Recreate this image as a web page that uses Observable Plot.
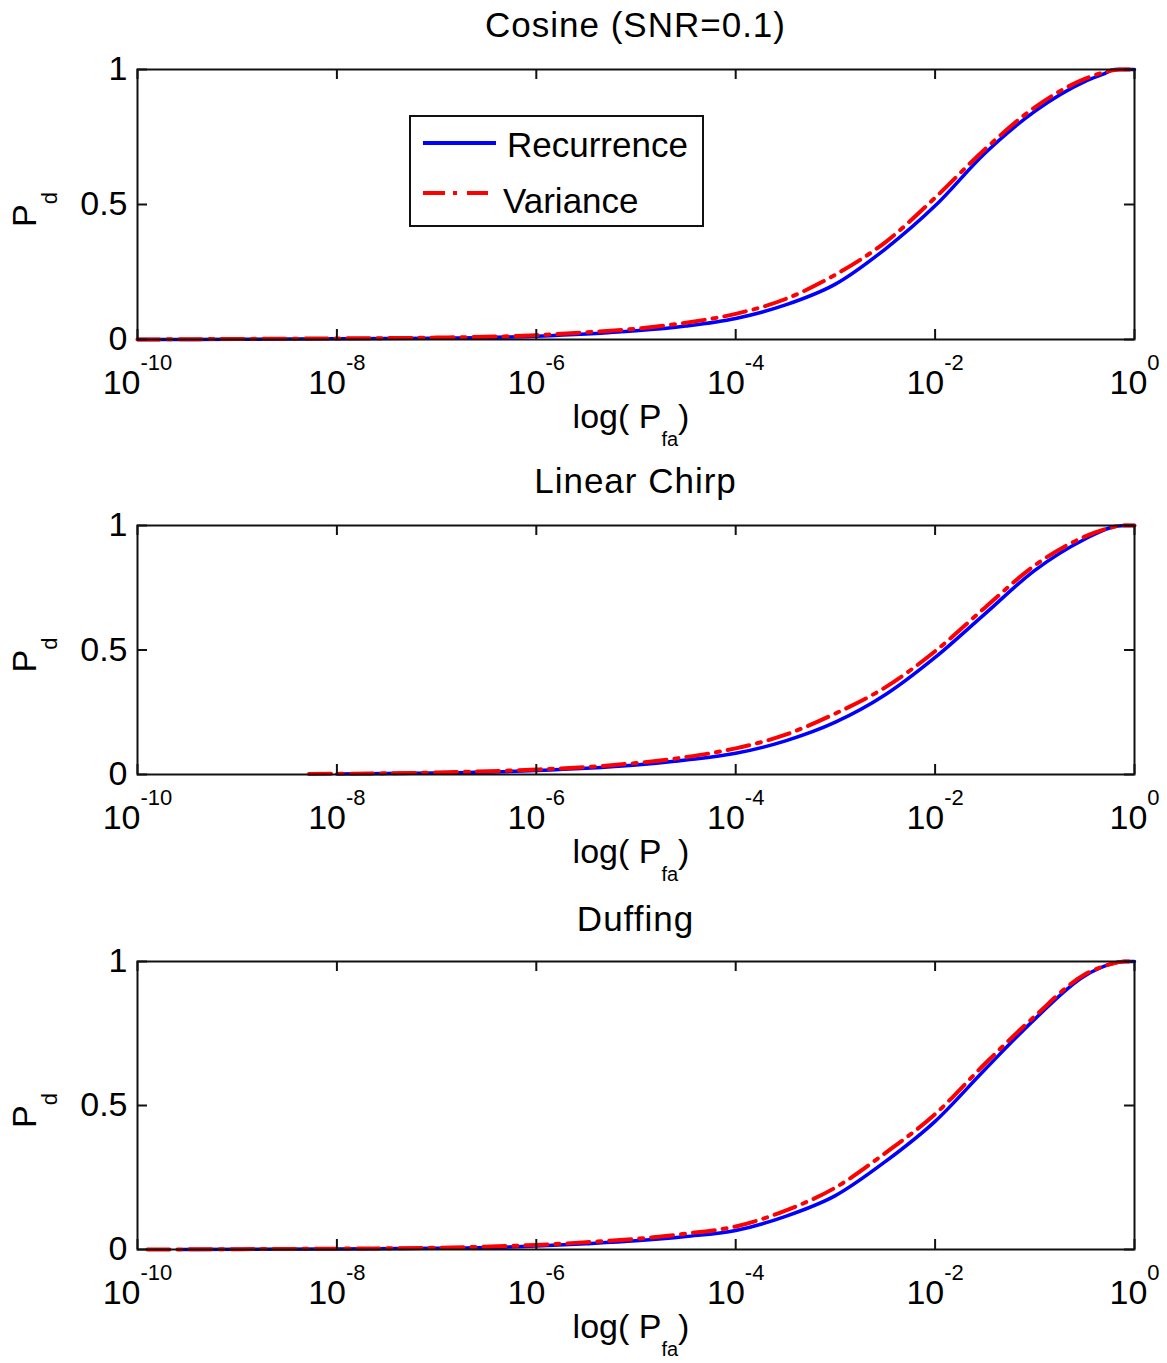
<!DOCTYPE html>
<html>
<head>
<meta charset="utf-8">
<script src="https://cdn.jsdelivr.net/npm/d3@7"></script>
<script src="https://cdn.jsdelivr.net/npm/@observablehq/plot@0.6"></script>
<style>
  html, body { margin: 0; padding: 0; background: #fff; }
  #wrap { position: relative; width: 1167px; height: 1363px; font-family: "Liberation Sans", Arial, Helvetica, sans-serif; color: #000; overflow: hidden; }
  .panel { position: absolute; left: 0; }
  .title { position: absolute; left: 137px; width: 997px; text-align: center; font-size: 35px; line-height: 40px; letter-spacing: 1px; white-space: nowrap; }
  .legend { position: absolute; left: 409px; top: 115px; width: 295px; height: 112px; box-sizing: border-box; border: 2px solid #111; background: #fff; }
  .legend .sw { position: absolute; height: 4px; }
  .legend .lbl { position: absolute; font-size: 35px; line-height: 40px; white-space: nowrap; }
</style>
</head>
<body>
<div id="wrap"></div>
<script>
// ---------- data ----------
const panelTitles = ["Cosine (SNR=0.1)", "Linear Chirp", "Duffing"];
const seriesNames = ["Recurrence", "Variance"];
const seriesColors = ["#0000ff", "#ff0000"];
const xTicks = [1e-10, 1e-8, 1e-6, 1e-4, 1e-2, 1];
const yTicks = [0, 0.5, 1];

// log10(Pfa) and Pd values
const cosineRecLog = [-10, -9, -8, -7, -6, -5.5, -5, -4.5, -4, -3.5, -3, -2.5, -2, -1.5, -1, -0.5, -0.3, -0.2, 0];
const cosineRecPd  = [0, 0.001, 0.003, 0.005, 0.012, 0.02, 0.032, 0.05, 0.078, 0.128, 0.205, 0.335, 0.495, 0.69, 0.845, 0.955, 0.985, 1.0, 1.0];
const cosineVarLog = [-10, -9, -8, -7, -6, -5.5, -5, -4.5, -4, -3.5, -3, -2.5, -2, -1.5, -1, -0.5, -0.3, -0.15, 0];
const cosineVarPd  = [0, 0.002, 0.004, 0.007, 0.016, 0.027, 0.04, 0.062, 0.095, 0.15, 0.24, 0.36, 0.525, 0.705, 0.86, 0.965, 0.99, 1.0, 1.0];

const chirpRecLog = [-8.0, -7, -6, -5.5, -5, -4.5, -4, -3.5, -3, -2.5, -2, -1.5, -1, -0.5, -0.25, -0.1, 0];
const chirpRecPd  = [0.002, 0.006, 0.016, 0.025, 0.038, 0.058, 0.085, 0.135, 0.21, 0.32, 0.47, 0.645, 0.82, 0.945, 0.99, 1.0, 1.0];
const chirpVarLog = [-8.28, -7, -6, -5.5, -5, -4.5, -4, -3.5, -3, -2.5, -2, -1.5, -1, -0.5, -0.25, -0.12, 0];
const chirpVarPd  = [0.002, 0.008, 0.02, 0.03, 0.046, 0.07, 0.105, 0.16, 0.245, 0.35, 0.495, 0.67, 0.84, 0.955, 0.99, 1.0, 1.0];

const duffRecLog = [-9.55, -8, -7, -6, -5.5, -5, -4.5, -4, -3.5, -3, -2.5, -2, -1.5, -1, -0.5, -0.25, -0.1, 0];
const duffRecPd  = [0, 0.002, 0.004, 0.012, 0.02, 0.03, 0.045, 0.066, 0.115, 0.187, 0.305, 0.445, 0.625, 0.80, 0.95, 0.99, 1.0, 1.0];
const duffVarLog = [-9.9, -8, -7, -6, -5.5, -5, -4.5, -4, -3.5, -3, -2.5, -2, -1.5, -1, -0.5, -0.25, -0.1, 0];
const duffVarPd  = [0, 0.003, 0.006, 0.016, 0.025, 0.037, 0.055, 0.08, 0.135, 0.215, 0.335, 0.47, 0.645, 0.81, 0.955, 0.99, 1.0, 1.0];

// ---------- drawing ----------
const NS = "http://www.w3.org/2000/svg";
const FRAME_W = 997;

function rows(logs, pds) {
  return logs.map((e, i) => ({ pfa: Math.pow(10, e), pd: pds[i] }));
}

function panel(recLog, recPd, varLog, varPd, mt, fh, mb) {
  const rec = rows(recLog, recPd);
  const vr = rows(varLog, varPd);
  return Plot.plot({
    width: 1167,
    height: mt + fh + mb,
    marginLeft: 137,
    marginRight: 33,
    marginTop: mt,
    marginBottom: mb,
    style: { fontFamily: '"Liberation Sans", Arial, Helvetica, sans-serif', fontSize: "34px", background: "transparent", overflow: "visible", color: "#000" },
    x: { type: "log", domain: [1e-10, 1], label: null },
    y: { domain: [0, 1], label: null },
    marks: [
      Plot.line(rec, { x: "pfa", y: "pd", stroke: seriesColors[0], strokeWidth: 3.5, curve: "monotone-x" }),
      Plot.line(vr, { x: "pfa", y: "pd", stroke: seriesColors[1], strokeWidth: 4, strokeDasharray: "22,8,4,8", curve: "monotone-x" }),
      Plot.frame({ stroke: "#111", strokeWidth: 2 }),
      Plot.tickX(xTicks, { x: d => d, insetTop: fh - 10, stroke: "#111", strokeWidth: 2 }),
      Plot.tickX(xTicks, { x: d => d, insetBottom: fh - 10, stroke: "#111", strokeWidth: 2 }),
      Plot.tickY(yTicks, { y: d => d, insetRight: FRAME_W - 10, stroke: "#111", strokeWidth: 2 }),
      Plot.tickY(yTicks, { y: d => d, insetLeft: FRAME_W - 10, stroke: "#111", strokeWidth: 2 }),
      Plot.axisX({ ticks: xTicks, tickSize: 0, tickPadding: 30, tickFormat: d => "10^" + Math.round(Math.log10(d)), label: null, fontSize: 34 }),
      Plot.axisY({ ticks: yTicks, tickSize: 0, tickPadding: 10, tickFormat: d => String(d), label: null, fontSize: 34 }),
      Plot.text(["P"], { text: d => d, frameAnchor: "left", rotate: -90, dx: -102, dy: 5, textAnchor: "middle", lineAnchor: "bottom", fontSize: 34 }),
      Plot.text(["log( P"], { text: d => d, frameAnchor: "bottom", dx: -5, dy: 88, textAnchor: "middle", lineAnchor: "bottom", fontSize: 34 })
    ]
  });
}

function tspan(txt, dy, size) {
  const t = document.createElementNS(NS, "tspan");
  if (dy != null) t.setAttribute("dy", dy);
  if (size != null) t.setAttribute("font-size", size);
  t.textContent = txt;
  return t;
}

function decorate(svg) {
  svg.querySelectorAll('g[aria-label="x-axis tick label"] text').forEach(t => {
    const parts = t.textContent.split("^");
    if (parts.length !== 2) return;
    t.textContent = parts[0];
    t.appendChild(tspan(parts[1], "-24", "22"));
  });
  svg.querySelectorAll('g[aria-label="text"] text').forEach(t => {
    if (t.textContent === "P") {
      t.appendChild(tspan("d", "21", "22"));
    } else if (t.textContent === "log( P") {
      t.appendChild(tspan("fa", "18", "20"));
      t.appendChild(tspan(")", "-18", null));
    }
  });
}

const wrap = document.getElementById("wrap");
const layout = [
  { top: 40,  mt: 29, fh: 270, mb: 119, data: [cosineRecLog, cosineRecPd, cosineVarLog, cosineVarPd], titleTop: 5 },
  { top: 502, mt: 23, fh: 249, mb: 121, data: [chirpRecLog, chirpRecPd, chirpVarLog, chirpVarPd], titleTop: 461 },
  { top: 939, mt: 22, fh: 288, mb: 114, data: [duffRecLog, duffRecPd, duffVarLog, duffVarPd], titleTop: 899 }
];

layout.forEach((L, i) => {
  const svg = panel(...L.data, L.mt, L.fh, L.mb);
  decorate(svg);
  const box = document.createElement("div");
  box.className = "panel";
  box.style.top = L.top + "px";
  box.appendChild(svg);
  wrap.appendChild(box);
});

layout.forEach((L, i) => {
  const t = document.createElement("div");
  t.className = "title";
  t.style.top = L.titleTop + "px";
  t.textContent = panelTitles[i];
  wrap.appendChild(t);
});

// legend (inside the first panel)
const lg = document.createElement("div");
lg.className = "legend";
function sw(left, top, width, color) {
  const d = document.createElement("div");
  d.className = "sw";
  d.style.left = left + "px"; d.style.top = top + "px"; d.style.width = width + "px"; d.style.background = color;
  lg.appendChild(d);
}
function lbl(left, top, txt) {
  const d = document.createElement("div");
  d.className = "lbl";
  d.style.left = left + "px"; d.style.top = top + "px";
  d.textContent = txt;
  lg.appendChild(d);
}
sw(12, 24, 73, seriesColors[0]);
lbl(96, 8, seriesNames[0]);
sw(12, 74, 22, seriesColors[1]);
sw(42, 74, 4, seriesColors[1]);
sw(56, 74, 21, seriesColors[1]);
lbl(92, 64, seriesNames[1]);
wrap.appendChild(lg);
</script>
</body>
</html>
